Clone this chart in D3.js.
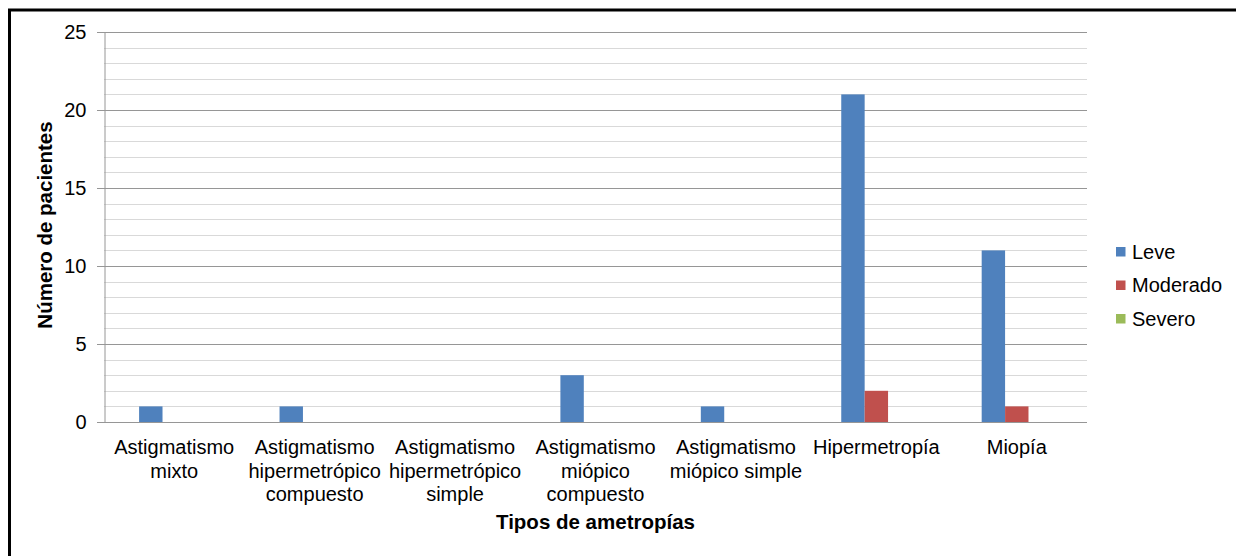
<!DOCTYPE html>
<html><head><meta charset="utf-8">
<script src="https://cdn.jsdelivr.net/npm/d3@7"></script>
<style>
html,body{margin:0;background:#fff;overflow:hidden;}
svg{display:block;font-family:"Liberation Sans",Arial,sans-serif;}
</style></head>
<body><svg id="c" width="1236" height="556"></svg>
<script>
const categories = [
  ["Astigmatismo","mixto"],
  ["Astigmatismo","hipermetrópico","compuesto"],
  ["Astigmatismo","hipermetrópico","simple"],
  ["Astigmatismo","miópico","compuesto"],
  ["Astigmatismo","miópico simple"],
  ["Hipermetropía"],
  ["Miopía"]
];
const seriesNames = ["Leve","Moderado","Severo"];
const leve = [1,1,0,3,1,21,11];
const moderado = [0,0,0,0,0,2,1];
const severo = [0,0,0,0,0,0,0];
const seriesValues = [leve, moderado, severo];
const colors = ["#4F81BD","#C0504D","#9BBB59"];
const yMajorTicks = [0,5,10,15,20,25];

const svg = d3.select("#c");
const L = 104, R = 1087, T = 32, B = 422;

// outer frame (only left and top edges visible)
svg.append("path").attr("d","M9.5,556 L9.5,10 L1236,10")
  .attr("fill","none").attr("stroke","#000").attr("stroke-width",3);

const y = d3.scaleLinear().domain([0,25]).range([B,T]);
const keys = categories.map((c,i)=>i);
const x0 = d3.scaleBand().domain(keys).range([L,R]).paddingInner(0.5).paddingOuter(0.25);
const x1 = d3.scaleBand().domain(seriesNames).range([0,x0.bandwidth()]);

// minor gridlines
const g = svg.append("g");
g.selectAll("line.minor").data(d3.range(1,26).filter(v=>v%5!==0)).join("line")
  .attr("x1",L).attr("x2",R).attr("y1",d=>Math.round(y(d))+0.5).attr("y2",d=>Math.round(y(d))+0.5)
  .attr("stroke","#d9d9d9").attr("stroke-width",1);
// major gridlines
g.selectAll("line.major").data(yMajorTicks.filter(v=>v>0)).join("line")
  .attr("x1",L-7).attr("x2",R).attr("y1",d=>Math.round(y(d))+0.5).attr("y2",d=>Math.round(y(d))+0.5)
  .attr("stroke","#969696").attr("stroke-width",1);

// bars
seriesNames.forEach((s,si)=>{
  svg.append("g").selectAll("rect").data(seriesValues[si]).join("rect")
    .attr("x",(d,i)=>x0(i)+x1(s))
    .attr("width",x1.bandwidth())
    .attr("y",d=>y(d))
    .attr("height",d=>B-y(d))
    .attr("fill",colors[si]);
});

// y axis
const yAxis = d3.axisLeft(y).tickValues(yMajorTicks).tickSize(0).tickPadding(18);
const ya = svg.append("g").attr("transform",`translate(${L+0.5},0)`).call(yAxis);
ya.select(".domain").attr("stroke","#969696");
ya.selectAll("text").attr("font-size",20).attr("fill","#000").attr("font-family","Liberation Sans, Arial, sans-serif");

// zero line
svg.append("line").attr("x1",L-7).attr("x2",R).attr("y1",B+0.5).attr("y2",B+0.5).attr("stroke","#969696");

// x axis labels
const xl = svg.append("g");
categories.forEach((lines,i)=>{
  const t = xl.append("text").attr("text-anchor","middle").attr("font-size",20).attr("fill","#000");
  lines.forEach((ln,j)=>{
    t.append("tspan").attr("x",x0(i)+x0.bandwidth()/2).attr("y",454+j*23.5).text(ln);
  });
});

// axis titles
svg.append("text").attr("x",(L+R)/2).attr("y",529).attr("text-anchor","middle")
  .attr("font-size",20.5).attr("font-weight","bold").text("Tipos de ametropías");
svg.append("text").attr("transform",`translate(52,225) rotate(-90)`).attr("text-anchor","middle")
  .attr("font-size",20.5).attr("font-weight","bold").text("Número de pacientes");

// legend
const lg = svg.append("g");
seriesNames.forEach((s,i)=>{
  const cy = 251.5 + i*33.5;
  lg.append("rect").attr("x",1116).attr("y",cy-4.5).attr("width",9.5).attr("height",9.5).attr("fill",colors[i]);
  lg.append("text").attr("x",1132).attr("y",cy+7).attr("font-size",20).text(s);
});
</script>
</body></html>
